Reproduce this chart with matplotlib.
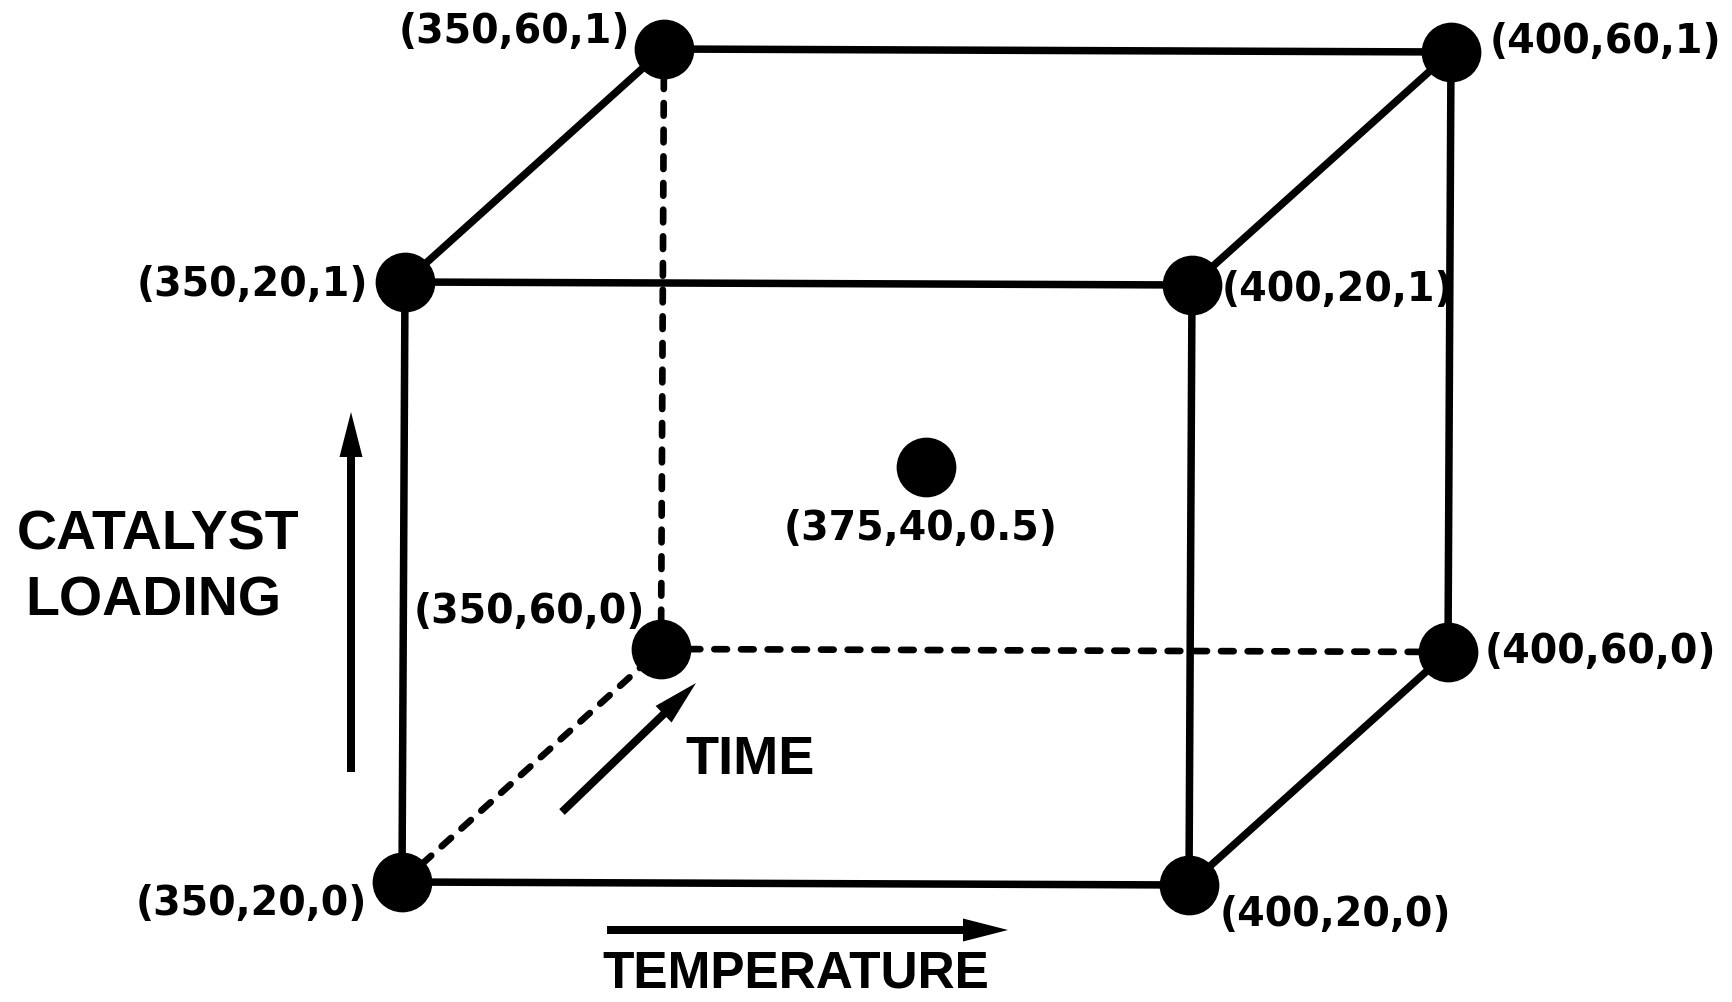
#!/usr/bin/env python3
"""
Two-level factorial design cube (temperature x time x catalyst loading)
with a centre point, drawn in an oblique projection.
"""

from itertools import product

import matplotlib.pyplot as plt

# Factor levels of the design
temperature = [350, 400]
time = [20, 60]
catalyst = [0, 1]
center_run = (375, 40, 0.5)
hidden_corner = (350, 60, 0)   # back corner, edges to it are dashed

# Oblique projection of the cube onto the page (pixels)
ORIGIN = (402, 882)
TEMP_VEC = (787, 3)      # screen shift from 350 -> 400
TIME_VEC = (259, -233)   # screen shift from 20 -> 60
CAT_VEC = (3, -600)      # screen shift from 0 -> 1

# Where each corner label sits relative to its point (dx, dy, ha)
label_offsets = {
    (350, 20, 0): (-35, 22, 'right'),
    (400, 20, 0): (31, 30, 'left'),
    (350, 20, 1): (-37, 3, 'right'),
    (400, 20, 1): (30, 5, 'left'),
    (350, 60, 0): (-16, -37, 'right'),
    (400, 60, 0): (37, 0, 'left'),
    (350, 60, 1): (-34, -17, 'right'),
    (400, 60, 1): (39, -10, 'left'),
}

W, H = 1733, 1002
LINE_W = 5.4
DASH_W = 4.8
NUM_FONT = dict(family='DejaVu Sans', fontweight='bold', fontsize=28.5)
WORD_FONT = dict(family='Liberation Sans', fontweight='bold')


def project(t, m, c):
    ft = (t - temperature[0]) / (temperature[1] - temperature[0])
    fm = (m - time[0]) / (time[1] - time[0])
    fc = (c - catalyst[0]) / (catalyst[1] - catalyst[0])
    x = ORIGIN[0] + ft * TEMP_VEC[0] + fm * TIME_VEC[0] + fc * CAT_VEC[0]
    y = ORIGIN[1] + ft * TEMP_VEC[1] + fm * TIME_VEC[1] + fc * CAT_VEC[1]
    return x, y


def fmt(v):
    return f'{v:g}'


fig = plt.figure(figsize=(W / 100, H / 100), dpi=100)
ax = fig.add_axes([0, 0, 1, 1])
ax.set_xlim(0, W)
ax.set_ylim(H, 0)
ax.axis('off')

corners = list(product(temperature, time, catalyst))

# Cube edges: corners that differ in exactly one factor
for i, a in enumerate(corners):
    for b in corners[i + 1:]:
        if sum(u != v for u, v in zip(a, b)) != 1:
            continue
        (x0, y0), (x1, y1) = project(*a), project(*b)
        if hidden_corner in (a, b):
            ax.plot([x0, x1], [y0, y1], color='black', lw=DASH_W,
                    linestyle=(0, (1.9, 2.1)), dash_capstyle='round', zorder=1)
        else:
            ax.plot([x0, x1], [y0, y1], color='black', lw=LINE_W,
                    solid_capstyle='butt', zorder=1)

# Design points
for c in corners:
    x, y = project(*c)
    ax.plot(x, y, 'o', color='black', markersize=42, zorder=3)
    dx, dy, ha = label_offsets[c]
    ax.text(x + dx, y + dy, '(' + ','.join(fmt(v) for v in c) + ')',
            ha=ha, va='center', **NUM_FONT)

cx, cy = project(*center_run)
ax.plot(cx, cy, 'o', color='black', markersize=42, zorder=3)
ax.text(cx - 6, cy + 62, '(' + ','.join(fmt(v) for v in center_run) + ')',
        ha='center', va='center', **NUM_FONT)

# Factor direction arrows
arrow_kw = dict(width=8, head_width=23, head_length=45,
                length_includes_head=True, fc='black', ec='black', lw=0)
ax.arrow(351, 772, 0, -360, **arrow_kw)
ax.arrow(562, 812, 134, -129, **arrow_kw)
ax.arrow(607, 930, 401, 0, **arrow_kw)

ax.text(158, 549, 'CATALYST', ha='center', va='baseline', fontsize=40, **WORD_FONT)
ax.text(153, 616, 'LOADING', ha='center', va='baseline', fontsize=40, **WORD_FONT)
ax.text(685, 774, 'TIME', ha='left', va='baseline', fontsize=39, **WORD_FONT)
ax.text(796, 988, 'TEMPERATURE', ha='center', va='baseline', fontsize=37, **WORD_FONT)

fig.savefig('out.png', dpi=100)
print('Saved out.png')
